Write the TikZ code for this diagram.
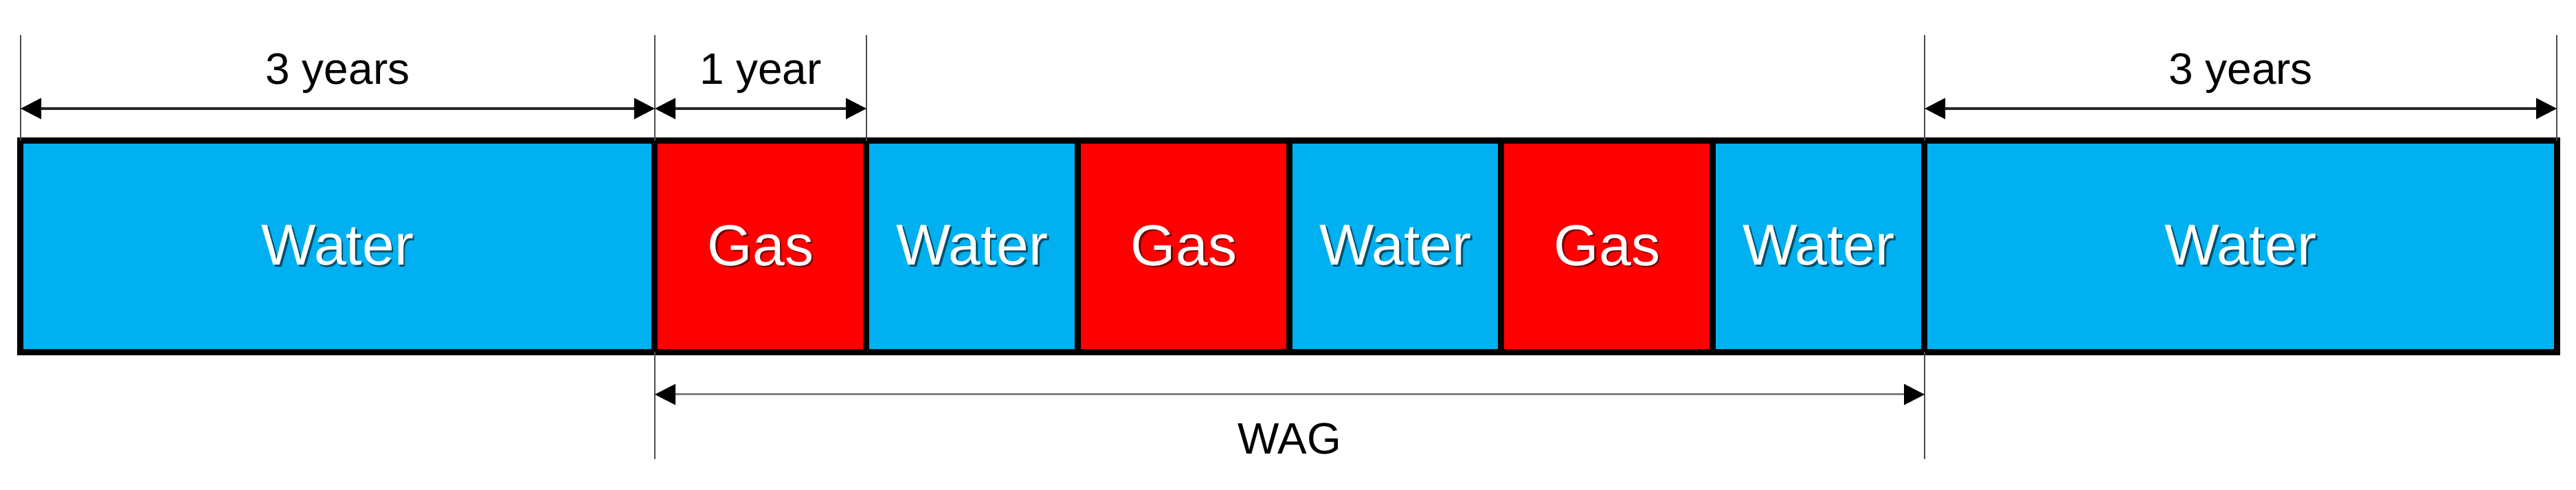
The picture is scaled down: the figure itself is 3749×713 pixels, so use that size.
\documentclass[tikz,border=0pt]{standalone}
\usepackage{fontspec}
\setmainfont{Liberation Sans}
\usetikzlibrary{arrows.meta}
\definecolor{wblue}{HTML}{00B0F0}
\definecolor{gred}{HTML}{FF0000}
\newcommand\shtxt[2]{\makebox[0pt][l]{\hspace{0.025cm}\raisebox{-0.025cm}{\color{#1}#2}}#2}
\tikzset{
  seg/.style={draw=black, line width=0.09cm, minimum height=3.07cm, inner sep=0pt,
    font=\fontsize{23.9}{28}\selectfont, text=white},
  water/.style={seg, fill=wblue, minimum width=#1},
  water/.default=3.08cm,
  gas/.style={seg, fill=gred, minimum width=3.08cm},
  extline/.style={draw=black!70, line width=0.025cm},
  dimarrow/.style={draw=black!85, line width=0.035cm,
    {Triangle[length=0.3cm,width=0.3cm,color=black]}-{Triangle[length=0.3cm,width=0.3cm,color=black]}},
  wagarrow/.style={draw=black!50, line width=0.03cm,
    {Triangle[length=0.3cm,width=0.3cm,color=black]}-{Triangle[length=0.3cm,width=0.3cm,color=black]}},
  dimlabel/.style={font=\fontsize{18.2}{22}\selectfont, anchor=base, inner sep=0pt, text=black}
}
\begin{document}
\begin{tikzpicture}[x=0.01cm, y=-0.01cm]
\useasboundingbox (0,0) rectangle (3749,713);
% bar segments
\node[water=9.23cm] (w1) at (491.5,358.5) {\shtxt{wblue!45!black}{Water}};
\node[gas]   (g1) at (1107,358.5) {\shtxt{gred!45!black}{Gas}};
\node[water] (w2) at (1415,358.5) {\shtxt{wblue!45!black}{Water}};
\node[gas]   (g2) at (1723,358.5) {\shtxt{gred!45!black}{Gas}};
\node[water] (w3) at (2031,358.5) {\shtxt{wblue!45!black}{Water}};
\node[gas]   (g3) at (2339,358.5) {\shtxt{gred!45!black}{Gas}};
\node[water] (w4) at (2647,358.5) {\shtxt{wblue!45!black}{Water}};
\node[water=9.20cm] (w5) at (3261,358.5) {\shtxt{wblue!45!black}{Water}};
% extension line ends
\coordinate (t0) at (30,51);    \coordinate (b0) at (30,205);
\coordinate (t1) at (953,51);   \coordinate (b1) at (953,205);
\coordinate (t2) at (1261,51);  \coordinate (b2) at (1261,205);
\coordinate (t3) at (2801,51);  \coordinate (b3) at (2801,205);
\coordinate (t4) at (3721,51);  \coordinate (b4) at (3721,205);
\coordinate (u1) at (953,512);  \coordinate (d1) at (953,668);
\coordinate (u3) at (2801,512); \coordinate (d3) at (2801,668);
\draw[extline] (t0) -- (b0);
\draw[extline] (t1) -- (b1);
\draw[extline] (t2) -- (b2);
\draw[extline] (t3) -- (b3);
\draw[extline] (t4) -- (b4);
\draw[extline] (u1) -- (d1);
\draw[extline] (u3) -- (d3);
% dimension arrows
\coordinate (a0) at (30,158);
\coordinate (a1) at (953,158);
\coordinate (a2) at (1261,158);
\coordinate (a3) at (2801,158);
\coordinate (a4) at (3721,158);
\coordinate (c1) at (953,574);
\coordinate (c3) at (2801,574);
\draw[dimarrow] (a0) -- (a1);
\draw[dimarrow] (a1) -- (a2);
\draw[dimarrow] (a3) -- (a4);
\draw[wagarrow] (c1) -- (c3);
% labels
\node[dimlabel] (l1) at (491.5,123) {3 years};
\node[dimlabel] (l2) at (1107,123) {1 year};
\node[dimlabel] (l3) at (3261,123) {3 years};
\node[dimlabel] (l4) at (1877,660) {WAG};
\end{tikzpicture}
\end{document}
